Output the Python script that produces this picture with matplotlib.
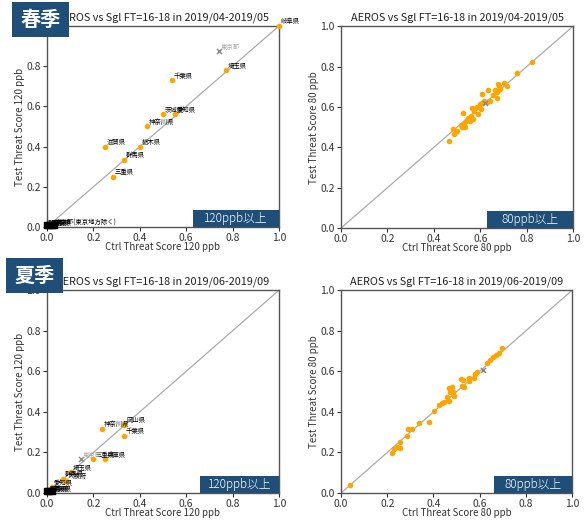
import matplotlib
matplotlib.use("Agg")
import matplotlib.pyplot as plt
from matplotlib.patches import Rectangle

plt.rcParams["font.family"] = ["Noto Sans CJK JP", "DejaVu Sans"]

# --- 春季 (2019/04-2019/05), 120 ppb, labelled prefectures
spr120_names = ["岐阜県", "埼玉県", "千葉県", "茨城県", "愛知県", "神奈川県",
                "滋賀県", "栃木県", "群馬県", "三重県"]
spr120_ctrl = [1.00, 0.77, 0.54, 0.50, 0.55, 0.43, 0.25, 0.40, 0.33, 0.285]
spr120_test = [1.00, 0.78, 0.73, 0.56, 0.56, 0.50, 0.40, 0.40, 0.335, 0.25]
spr120_zero_names = ["静岡県", "長野県", "山梨県", "東京都(東京地方除く)"]
spr120_zero_ctrl = [0.0, 0.01, 0.02, 0.03]
spr120_all = (0.74, 0.875)   # 東京都

# --- 春季, 80 ppb
spr80_ctrl = [0.823, 0.757, 0.704, 0.717, 0.675, 0.681, 0.685, 0.665, 0.672,
              0.654, 0.672, 0.632, 0.609, 0.642, 0.628, 0.616, 0.606, 0.599,
              0.585, 0.563, 0.602, 0.575, 0.589, 0.527, 0.559, 0.549, 0.570,
              0.539, 0.556, 0.531, 0.516, 0.522, 0.533, 0.484, 0.501, 0.487,
              0.467]
spr80_test = [0.823, 0.766, 0.721, 0.703, 0.716, 0.704, 0.687, 0.683, 0.675,
              0.658, 0.645, 0.683, 0.662, 0.630, 0.625, 0.630, 0.620, 0.617,
              0.600, 0.596, 0.589, 0.579, 0.564, 0.568, 0.554, 0.543, 0.538,
              0.531, 0.531, 0.515, 0.513, 0.501, 0.501, 0.489, 0.480, 0.465,
              0.431]
spr80_all = (0.621, 0.620)

# --- 夏季 (2019/06-2019/09), 120 ppb
sum120_names = ["岡山県", "神奈川県", "千葉県", "三重県", "兵庫県", "埼玉県",
                "群馬県", "大阪府", "愛知県"]
sum120_ctrl = [0.333, 0.236, 0.333, 0.200, 0.250, 0.102, 0.070, 0.082, 0.020]
sum120_test = [0.336, 0.318, 0.281, 0.167, 0.167, 0.102, 0.069, 0.061, 0.028]
sum120_zero_names = ["長野県", "山梨県", "奈良県"]
sum120_zero_ctrl = [0.0, 0.01, 0.02]
sum120_all = (0.145, 0.166)  # 東京都

# --- 夏季, 80 ppb
sum80_ctrl = [0.039, 0.219, 0.227, 0.241, 0.253, 0.255, 0.284, 0.289, 0.309,
              0.338, 0.382, 0.403, 0.424, 0.436, 0.446, 0.457, 0.469, 0.472,
              0.482, 0.483, 0.489, 0.468, 0.522, 0.530, 0.527, 0.519, 0.554,
              0.554, 0.576, 0.580, 0.590, 0.633, 0.645, 0.659, 0.670, 0.685,
              0.697]
sum80_test = [0.039, 0.195, 0.217, 0.228, 0.250, 0.220, 0.281, 0.315, 0.315,
              0.343, 0.351, 0.405, 0.433, 0.442, 0.447, 0.471, 0.455, 0.499,
              0.521, 0.496, 0.479, 0.516, 0.527, 0.521, 0.557, 0.562, 0.552,
              0.568, 0.565, 0.586, 0.598, 0.642, 0.655, 0.671, 0.680, 0.691,
              0.716]
sum80_all = (0.613, 0.606)

titles = ["AEROS vs Sgl FT=16-18 in 2019/04-2019/05",
          "AEROS vs Sgl FT=16-18 in 2019/06-2019/09"]
seasons = ["春季", "夏季"]
NAVY = "#1f4e79"
ORANGE = "#ffa500"


def base_axes(ax, title, thr):
    ax.plot([0, 1], [0, 1], color="#aaaaaa", lw=0.9, zorder=1)
    ax.set_xlim(0, 1)
    ax.set_ylim(0, 1)
    ax.set_xticks([0, 0.2, 0.4, 0.6, 0.8, 1.0])
    ax.set_yticks([0, 0.2, 0.4, 0.6, 0.8, 1.0])
    ax.tick_params(labelsize=7.5, length=3, width=0.8, pad=1.5, colors="#333333")
    for s in ax.spines.values():
        s.set_color("#555555")
        s.set_linewidth(1.0)
    ax.set_title(title, fontsize=7.8, pad=4, color="#222222")
    ax.set_xlabel(f"Ctrl Threat Score {thr} ppb", fontsize=7, color="#333333")
    ax.set_ylabel(f"Test Threat Score {thr} ppb", fontsize=7, color="#333333")
    h = ax.get_position().height * 520
    w = ax.get_position().width * 585
    ax.xaxis.label.set_va("center")
    ax.xaxis.set_label_coords(0.5, -20 / h)
    ax.yaxis.label.set_va("center")
    ax.yaxis.set_label_coords(-27 / w, 0.5)


def ppb_box(ax, text, x0):
    ax.add_patch(Rectangle((x0, 0.0), 1.0 - x0, 0.085, facecolor=NAVY,
                           edgecolor="none", zorder=5))
    ax.text((x0 + 1.0) / 2, 0.043, text, color="white", fontsize=8.5,
            ha="center", va="center", zorder=6, fontweight="light")


def labelled(ax, names, xs, ys, zero_names, zero_xs, allpt):
    ax.scatter(xs, ys, s=9, color=ORANGE, zorder=3, clip_on=False)
    for n, x, y in zip(names, xs, ys):
        ax.text(x + 0.008, y + 0.003, n, fontsize=4.6, va="bottom", ha="left",
                color="black", zorder=4, clip_on=False)
    ax.scatter(zero_xs, [0.01] * len(zero_xs), s=14, color="black", zorder=3,
               marker="s", clip_on=False)
    for n, x in zip(zero_names, zero_xs):
        ax.text(x + 0.005, 0.002, n, fontsize=4.6, va="bottom", ha="left",
                color="black", zorder=4)
    ax.scatter([allpt[0]], [allpt[1]], marker="x", s=14, color="#888888",
               lw=1.0, zorder=3)
    ax.text(allpt[0] + 0.01, allpt[1] + 0.002, "東京都", fontsize=4.6,
            color="#aaaaaa", va="bottom", ha="left", zorder=4)


fig = plt.figure(figsize=(5.85, 5.2), dpi=100)
ax_tl = fig.add_axes([0.0803, 0.5635, 0.3966, 0.3865])
ax_tr = fig.add_axes([0.583, 0.5615, 0.3966, 0.388])
ax_bl = fig.add_axes([0.0803, 0.0519, 0.3966, 0.390])
ax_br = fig.add_axes([0.583, 0.0519, 0.395, 0.390])

base_axes(ax_tl, titles[0], 120)
base_axes(ax_tr, titles[0], 80)
base_axes(ax_bl, titles[1], 120)
base_axes(ax_br, titles[1], 80)

labelled(ax_tl, spr120_names, spr120_ctrl, spr120_test,
         spr120_zero_names, spr120_zero_ctrl, spr120_all)
labelled(ax_bl, sum120_names, sum120_ctrl, sum120_test,
         sum120_zero_names, sum120_zero_ctrl, sum120_all)

for ax, xs, ys, allpt in [(ax_tr, spr80_ctrl, spr80_test, spr80_all),
                          (ax_br, sum80_ctrl, sum80_test, sum80_all)]:
    ax.scatter(xs, ys, s=9, color=ORANGE, zorder=3)
    ax.scatter([allpt[0]], [allpt[1]], marker="x", s=14, color="#888888",
               lw=1.0, zorder=3)

ppb_box(ax_tl, "120ppb以上", 0.63)
ppb_box(ax_tr, "80ppb以上", 0.63)
ppb_box(ax_bl, "120ppb以上", 0.66)
ppb_box(ax_br, "80ppb以上", 0.66)

# season tags in the top-left corner of each row
for (x0, y0), s in zip([(12, 2), (6, 258)], seasons):
    w, h = 57, 35
    fig.patches.append(Rectangle((x0 / 585, 1 - (y0 + h) / 520), w / 585, h / 520,
                                 transform=fig.transFigure, facecolor=NAVY,
                                 edgecolor="none", zorder=10))
    fig.text((x0 + w / 2) / 585, 1 - (y0 + h / 2) / 520, s, color="white",
             fontsize=14.5, fontweight="bold", ha="center", va="center", zorder=11)

fig.savefig("out.png", dpi=100)
